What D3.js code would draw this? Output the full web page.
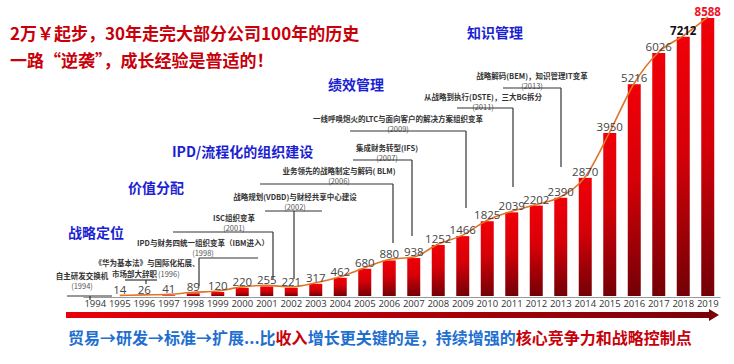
<!DOCTYPE html>
<html>
<head>
<meta charset="utf-8">
<script src="https://cdn.jsdelivr.net/npm/d3@7"></script>
<style>
  body { margin: 0; background: #fff; }
  svg { display: block; font-family: "Noto Sans CJK SC", "Noto Sans", sans-serif; }
  .axis text { font-size: 9.5px; fill: #333; font-family: "Open Sans", "Noto Sans", sans-serif; }
  .axis .domain { stroke: #999; }
</style>
</head>
<body>
<div id="chart"></div>
<script>
(function() {
  var width = 734, height = 364;

  var years = ["1994","1995","1996","1997","1998","1999","2000","2001","2002","2003","2004","2005","2006",
               "2007","2008","2009","2010","2011","2012","2013","2014","2015","2016","2017","2018","2019"]
  var barYears = years.slice(1)
  var revenue = [14, 26, 41, 89, 120, 220, 255, 221, 317, 462, 680, 880, 938,
                 1252, 1466, 1825, 2039, 2202, 2390, 2870, 3950, 5216, 6026, 7212, 8588]

  var titleLines = ["2万￥起步，30年走完大部分公司100年的历史", "一路“逆袭”，成长经验是普适的！"]
  var stages = ["战略定位", "价值分配", "IPD/流程化的组织建设", "绩效管理", "知识管理"]
  var eventYears = ["1994", "1996", "1998", "2001", "2002", "2006", "2007", "2009", "2011", "2013"]
  var eventTexts = [
    ["自主研发交换机"],
    ["《华为基本法》与国际化拓展、", "市场部大辞职"],
    ["IPD与财务四统一组织变革（IBM进入）"],
    ["ISC组织变革"],
    ["战略规划(VDBD)与财经共享中心建设"],
    ["业务领先的战略制定与解码( BLM)"],
    ["集成财务转型(IFS)"],
    ["一线呼唤炮火的LTC与面向客户的解决方案组织变革"],
    ["从战略到执行(DSTE)，三大BG拆分"],
    ["战略解码(BEM)，知识管理IT变革"]
  ]
  var footer = [
    ["贸易→研发→标准→扩展...比", "blue"], ["收入", "red"], ["增长更关键的是，持续增强的", "blue"],
    ["核心竞争力和战略控制点", "red"]
  ]

  var data = barYears.map(function(y, i) { return { year: y, value: revenue[i] } })

  var svg = d3.select("#chart").append("svg")
    .attr("width", width).attr("height", height)

  var defs = svg.append("defs")
  var grad = defs.append("linearGradient").attr("id", "barGrad")
    .attr("x1", 0).attr("y1", 0).attr("x2", 0).attr("y2", 1)
  grad.append("stop").attr("offset", "0%").attr("stop-color", "#f00008")
  grad.append("stop").attr("offset", "45%").attr("stop-color", "#d60008")
  grad.append("stop").attr("offset", "100%").attr("stop-color", "#730006")

  var arrowGrad = defs.append("linearGradient").attr("id", "arrowGrad")
    .attr("x1", 0).attr("y1", 0).attr("x2", 1).attr("y2", 0)
  arrowGrad.append("stop").attr("offset", "0%").attr("stop-color", "#e8000a")
  arrowGrad.append("stop").attr("offset", "100%").attr("stop-color", "#7a0008")

  var baseY = 297
  var x = d3.scaleBand().domain(years).range([83, 720]).paddingInner(0.47).paddingOuter(0.235)
  // top three bars are squeezed in the original, so the scale is broken past 3950
  var y = d3.scaleLinear().domain([0, 3950, 6026, 8588]).range([baseY, baseY - 164, baseY - 244, baseY - 279])
  var cx = function(yr) { return x(yr) + x.bandwidth() / 2 }

  // axis
  var xAxis = d3.axisBottom(x).tickSize(0).tickPadding(3)
  svg.append("g")
    .attr("class", "axis")
    .attr("transform", "translate(0," + baseY + ")")
    .call(xAxis)

  // bars
  svg.selectAll(".bar")
    .data(data)
    .enter().append("rect")
    .attr("class", "bar")
    .attr("x", function(d) { return x(d.year) })
    .attr("y", function(d) { return y(d.value) })
    .attr("width", x.bandwidth())
    .attr("height", function(d) { return baseY - 1 - y(d.value) > 0 ? baseY - 1 - y(d.value) : 0 })
    .attr("fill", "url(#barGrad)")

  // trend line
  var line = d3.line()
    .x(function(d) { return cx(d.year) })
    .y(function(d) { return y(d.value) - 1 })
    .curve(d3.curveMonotoneX)
  svg.append("path")
    .datum(data)
    .attr("d", line)
    .attr("fill", "none")
    .attr("stroke", "#e07426")
    .attr("stroke-width", 1.6)

  // value labels
  svg.selectAll(".val")
    .data(data)
    .enter().append("text")
    .attr("class", "val")
    .attr("x", function(d) { return cx(d.year) })
    .attr("y", function(d) { return y(d.value) - 2 })
    .attr("text-anchor", "middle")
    .attr("font-size", 11.5)
    .attr("font-family", "'Open Sans', 'Noto Sans', sans-serif")
    .attr("font-weight", function(d) { return d.year >= "2018" ? "bold" : "normal" })
    .attr("fill", function(d) {
      if (d.year == "2019") return "#f0142a"
      if (d.year == "2018") return "#111"
      return "#444"
    })
    .text(function(d) { return d.value })

  // event annotations
  var evLayout = {
    "1994": { tx: 82, ty: 279, x1: 67, x2: 112, ly: 296, y2: 300 },
    "1996": { tx: 147, ty: 266, x1: 125, x2: 157, ly: 280, y2: 284 },
    "1998": { tx: 203, ty: 246, x1: 199, x2: 258, ly: 258, y2: 286 },
    "2001": { tx: 234, ty: 221, x1: 173, x2: 273, ly: 232, y2: 279 },
    "2002": { tx: 295, ty: 200, x1: 265, x2: 322, ly: 211, y2: 279 },
    "2006": { tx: 339, ty: 174, x1: 260, x2: 393, ly: 184, y2: 243 },
    "2007": { tx: 387, ty: 151, x1: 353, x2: 412, ly: 160, y2: 236 },
    "2009": { tx: 398, ty: 122, x1: 350, x2: 466, ly: 131, y2: 208 },
    "2011": { tx: 483, ty: 100, x1: 457, x2: 513, ly: 108, y2: 187 },
    "2013": { tx: 532, ty: 79, x1: 503, x2: 561, ly: 88, y2: 167 }
  }
  var vx = { "1994": 90, "1996": 146, "1998": 199, "2001": 273, "2002": 294, "2006": 393,
             "2007": 412, "2009": 466, "2011": 513, "2013": 561 }

  eventYears.forEach(function(yr, i) {
    var L = evLayout[yr]
    var g = svg.append("g")
    var lines = eventTexts[i]
    lines.forEach(function(t, j) {
      g.append("text")
        .attr("x", j == 1 ? L.tx - 35 : L.tx)
        .attr("y", L.ty + j * 10.5)
        .attr("text-anchor", j == 1 ? "start" : "middle")
        .attr("font-size", 7.5)
        .attr("font-weight", "bold")
        .attr("fill", "#333")
        .text(t)
    })
    if (yr == "1996") {
      g.append("text").attr("x", L.tx + 11).attr("y", L.ty + 10.5)
        .attr("font-size", 7.5).attr("fill", "#555").text("(" + yr + ")")
    } else {
      g.append("text").attr("x", L.tx).attr("y", L.ty + 9.5)
        .attr("text-anchor", "middle").attr("font-size", 7.5).attr("fill", "#555")
        .text("(" + yr + ")")
    }
    g.append("line").attr("x1", L.x1).attr("x2", L.x2).attr("y1", L.ly).attr("y2", L.ly)
      .attr("stroke", "#333").attr("stroke-width", 1.2)
    g.append("line").attr("x1", vx[yr]).attr("x2", vx[yr]).attr("y1", L.ly).attr("y2", L.y2)
      .attr("stroke", "#333").attr("stroke-width", 1.2)
  })

  // stage labels
  var stagePos = [[68, 238], [128, 193], [172, 157], [328, 90], [467, 38]]
  svg.selectAll(".stage")
    .data(stages)
    .enter().append("text")
    .attr("class", "stage")
    .attr("x", function(d, i) { return stagePos[i][0] })
    .attr("y", function(d, i) { return stagePos[i][1] })
    .attr("font-size", 14)
    .attr("font-weight", "bold")
    .attr("fill", "#1c1fd2")
    .text(function(d) { return d })

  // title
  svg.selectAll(".title")
    .data(titleLines)
    .enter().append("text")
    .attr("class", "title")
    .attr("x", 10)
    .attr("y", function(d, i) { return 40 + i * 27 })
    .attr("font-size", 17)
    .attr("font-weight", "bold")
    .attr("fill", "#c8000a")
    .text(function(d) { return d })

  // bottom arrow
  svg.append("path")
    .attr("d", "M66,312 L709,312 L709,309 L719,315 L709,321 L709,318 L66,318 Z")
    .attr("fill", "url(#arrowGrad)")

  // footer
  var ft = svg.append("text")
    .attr("x", 68).attr("y", 344)
    .attr("font-size", 16)
    .attr("font-weight", "bold")
  footer.forEach(function(p) {
    ft.append("tspan")
      .attr("fill", p[1] == "red" ? "#c8000a" : "#1f6fcf")
      .text(p[0])
  })
})();
</script>
</body>
</html>
